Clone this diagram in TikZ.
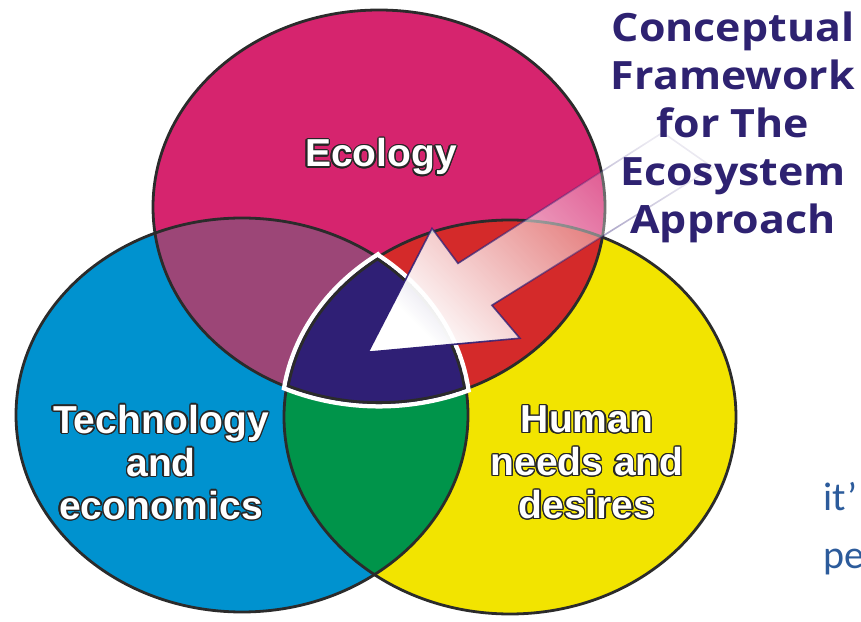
\documentclass[tikz,border=0pt]{standalone}
\usepackage{fontspec}
\usepackage{contour}
\usetikzlibrary{fadings}
\newfontfamily\labelfont{Liberation Sans}
\newfontfamily\titlefont{Open Sans}[FakeStretch=1.1]
\newfontfamily\sidefont{Carlito}
\definecolor{ecocol}{HTML}{D6246E}
\definecolor{techcol}{HTML}{0092CF}
\definecolor{humcol}{HTML}{F2E400}
\definecolor{purplecol}{HTML}{9C4677}
\definecolor{redcol}{HTML}{D42A2A}
\definecolor{greencol}{HTML}{00944A}
\definecolor{corecol}{HTML}{2F1F75}
\definecolor{titlecol}{HTML}{2E2271}
\definecolor{sidecol}{HTML}{2C5B9B}
\definecolor{edgecol}{HTML}{2B2B2B}
\contourlength{1.3pt}
\newcommand{\outl}[1]{\contour{black!85}{#1}}
\tikzfading[name=arrowfade, left color=transparent!0, right color=transparent!90]
\tikzstyle{ring} = [draw=edgecol, line width=2.8pt]
\tikzstyle{lbl} = [font=\labelfont\bfseries\fontsize{39}{43}\selectfont, text=white, align=center, inner sep=0pt]
\def\pathEco{(379,414) ellipse [x radius=226, y radius=197]}
\def\pathTech{(242,206) ellipse [x radius=226, y radius=197]}
\def\pathHum{(510,204) ellipse [x radius=226, y radius=197]}
\def\pathCore{(377.55,363.6) arc[start angle=125.87, end angle=171.18, x radius=226, y radius=197]
  arc[start angle=245.88, end angle=292.64, x radius=226, y radius=197]
  arc[start angle=7.64, end angle=53.14, x radius=226, y radius=197] -- cycle}

\begin{document}
\begin{tikzpicture}[x=1pt,y=1pt]
        \useasboundingbox (0,0) rectangle (861,621);
        % the three circles
        \fill[ecocol] \pathEco;
        \fill[techcol] \pathTech;
        \fill[humcol] \pathHum;
        \begin{scope}
            \clip \pathEco;
            \fill[purplecol] \pathTech;
            \fill[redcol] \pathHum;
        \end{scope}
        \begin{scope}
            \clip \pathTech;
            \fill[greencol] \pathHum;
        \end{scope}
        \draw[ring] \pathEco;
        \draw[ring] \pathTech;
        \draw[ring] \pathHum;

        % centre
        \draw[white, line width=9pt, line join=miter] \pathCore;
        \begin{scope}
            \clip \pathCore;
            \fill[corecol] \pathCore;
            \draw[edgecol, line width=5.6pt] \pathCore;
        \end{scope}

        % arrow
        \path[fill=white, draw=corecol, line width=1.6pt, line join=miter,
              path fading=arrowfade, fading angle=32.3]
            (368,269) -- (432,393) -- (458,358) -- (663,489)
            -- (713,454) -- (492,316) -- (520,283) -- cycle;

        \node[lbl, anchor=base] (ecolabel) at (381,454) {\outl{Ecology}};
        \node[lbl] (techlabel) at (161,158) {\outl{Technology}\\\outl{and}\\\outl{economics}};
        \node[lbl] (humlabel) at (587,158) {\outl{Human}\\\outl{needs and}\\\outl{desires}};

        \node[font=\titlefont\bfseries\fontsize{39}{48}\selectfont, text=titlecol, align=center]
            (title) at (733,494) {Conceptual\\Framework\\for The\\Ecosystem\\Approach};
        \node[font=\sidefont\fontsize{40}{58}\selectfont, text=sidecol, anchor=base west, inner sep=0pt]
            (side1) at (823,111) {it’};
        \node[font=\sidefont\fontsize{40}{58}\selectfont, text=sidecol, anchor=base west, inner sep=0pt]
            (side2) at (823,53) {pe};
\end{tikzpicture}
\end{document}
